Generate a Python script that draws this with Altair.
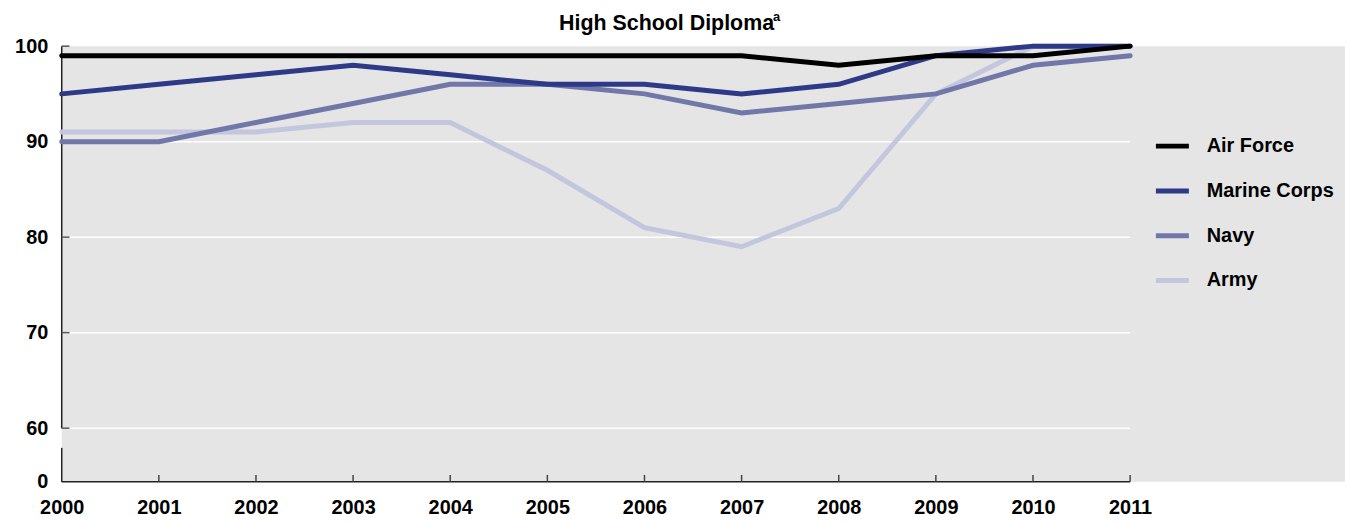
import altair as alt
import pandas as pd

years = list(range(2000, 2012))
air_force = [99, 99, 99, 99, 99, 99, 99, 99, 98, 99, 99, 100]
marine_corps = [95, 96, 97, 98, 97, 96, 96, 95, 96, 99, 100, 100]
navy = [90, 90, 92, 94, 96, 96, 95, 93, 94, 95, 98, 99]
army = [91, 91, 91, 92, 92, 87, 81, 79, 83, 95, 100, 100]

series_names = ["Air Force", "Marine Corps", "Navy", "Army"]
series_colors = ["#000000", "#2e3a87", "#7277aa", "#c4c6de"]
y_ticks = [0, 60, 70, 80, 90, 100]
grid_values = [60, 70, 80, 90]
title_text = "High School Diploma"
title_sup = "a"

FONT = "Liberation Sans"

# drawing order: Army at bottom, Air Force on top
rows = []
for name, vals in [("Army", army), ("Navy", navy), ("Marine Corps", marine_corps), ("Air Force", air_force)]:
    for y, v in zip(years, vals):
        rows.append({"year": y, "value": v, "service": name})
df = pd.DataFrame(rows)

xscale = alt.Scale(domain=[2000, 2011], range=[0, 1074], nice=False, zero=False)
yscale = alt.Scale(domain=[0, 60, 100], range=[438, 384, 0], nice=False, zero=False)

xaxis = alt.Axis(values=years, format="d", title=None, domain=False, ticks=False,
                 grid=False, labelFont=FONT, labelFontSize=20, labelFontWeight="bold",
                 labelColor="#000", labelPadding=16, labelFlush=False)
yaxis = alt.Axis(values=y_ticks, title=None, domain=False, ticks=False, grid=False,
                 labelFont=FONT, labelFontSize=20, labelFontWeight="bold",
                 labelColor="#000", labelPadding=14)

def X(field):
    return alt.X(field, scale=xscale, axis=xaxis)

def Y(field):
    return alt.Y(field, scale=yscale, axis=yaxis)

x0, x1 = years[0], years[-1]

grid_df = pd.DataFrame({"v": grid_values, "x0": x0, "x1": x1})
grid = alt.Chart(grid_df).mark_rule(color="white", strokeWidth=1.5).encode(
    y=Y("v:Q"), x=X("x0:Q"), x2="x1:Q",
)

# broken y-axis line segments
seg_df = pd.DataFrame({"lo": [0, 60], "hi": [38, 100], "x": [x0, x0]})
yaxis_line = alt.Chart(seg_df).mark_rule(color="#222", strokeWidth=1.5).encode(
    x=X("x:Q"), y=Y("lo:Q"), y2="hi:Q",
)
xaxis_df = pd.DataFrame({"y": [0], "x0": [x0], "x1": [x1]})
xaxis_line = alt.Chart(xaxis_df).mark_rule(color="#222", strokeWidth=1.5).encode(
    y=Y("y:Q"), x=X("x0:Q"), x2="x1:Q",
)

ytick_df = pd.DataFrame({"v": y_ticks[1:], "x0": x0, "x1": x0 + 0.08})
yticks = alt.Chart(ytick_df).mark_rule(color="#555", strokeWidth=1.5).encode(
    y=Y("v:Q"), x=X("x0:Q"), x2="x1:Q",
)
xtick_df = pd.DataFrame({"year": years[1:], "lo": 0, "hi": 7.8})
xticks = alt.Chart(xtick_df).mark_rule(color="#444", strokeWidth=1.5).encode(
    x=X("year:Q"), y=Y("lo:Q"), y2="hi:Q",
)

lines = alt.Chart(df).mark_line(strokeWidth=5, strokeCap="round").encode(
    x=X("year:Q"),
    y=Y("value:Q"),
    color=alt.Color("service:N",
                    scale=alt.Scale(domain=series_names, range=series_colors),
                    legend=alt.Legend(title=None, orient="none", legendX=1097, legendY=81,
                                      symbolType="stroke", symbolSize=1100, symbolStrokeWidth=5,
                                      labelFont=FONT, labelFontSize=20, labelFontWeight="bold",
                                      labelColor="#000", labelOffset=15, rowPadding=15,
                                      padding=0)),
    detail="service:N",
)

title = alt.Chart(pd.DataFrame({"t": [title_text]})).mark_text(
    font=FONT, fontSize=21.5, fontWeight="bold", color="#000", align="left", baseline="alphabetic"
).encode(text="t:N", x=alt.value(500), y=alt.value(-16))

sup = alt.Chart(pd.DataFrame({"t": [title_sup]})).mark_text(
    font=FONT, fontSize=13, fontWeight="bold", color="#000", align="left", baseline="alphabetic"
).encode(text="t:N", x=alt.value(715), y=alt.value(-25))

chart = alt.layer(grid, yaxis_line, xaxis_line, yticks, xticks, lines, title, sup).properties(
    width=1290, height=438,
    autosize=alt.AutoSizeParams(type="none"),
    padding={"left": 54, "top": 37, "right": 0, "bottom": 40},
).configure_view(fill="#e5e5e5", stroke=None)

chart.save("out.html", embed_options={"renderer": "svg", "actions": False})
